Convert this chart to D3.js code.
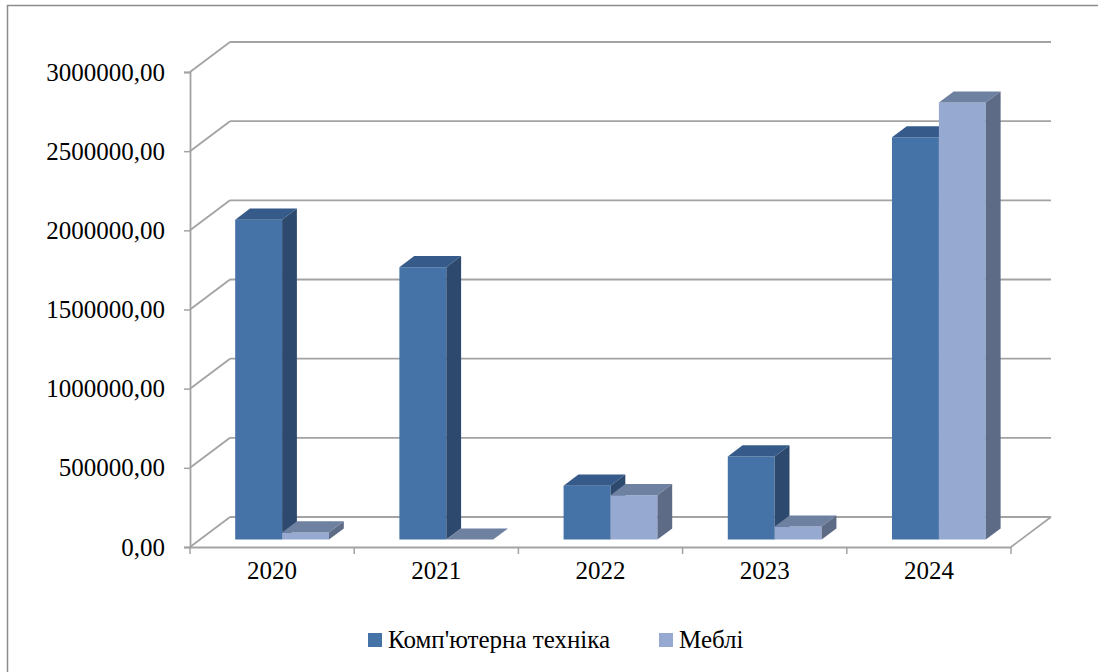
<!DOCTYPE html>
<html>
<head>
<meta charset="utf-8">
<script src="https://cdn.jsdelivr.net/npm/d3@7"></script>
<style>
  body { margin: 0; background: #fff; }
</style>
</head>
<body>
<div id="container"></div>
<script>
/* CONSTANTS AND GLOBALS */
const width = 1098,
  height = 672;
const FONT = "'Times New Roman', 'Liberation Serif', 'DejaVu Serif', 'Noto Serif', serif";

// data
const years = ["2020", "2021", "2022", "2023", "2024"];
const seriesNames = ["Комп'ютерна техніка", "Меблі"];
const computers = [2020000, 1720000, 340000, 525000, 2540000];
const furniture = [45000, 0, 280000, 82000, 2760000];
const yTicks = [0, 500000, 1000000, 1500000, 2000000, 2500000, 3000000];

// colours: front, top, side
const colors = [
  { front: "#4572a7", top: "#365b8a", side: "#2d4a6e" },
  { front: "#95a9d1", top: "#6f81a1", side: "#5e6b86" }
];

// 3d wall depth offset
const DX = 40, DY = 30;
const zFront = 0.25, zBack = 0.62;

/* SCALES */
const yScale = d3.scaleLinear()
  .domain([0, 3000000])
  .range([547, 72]);

const xScale = d3.scaleBand()
  .domain(years)
  .range([190, 1011])
  .padding(0);

const subScale = d3.scaleBand()
  .domain(seriesNames)
  .range([0, xScale.bandwidth()])
  .paddingInner(0)
  .paddingOuter(0.75);

// oblique projection: x on front plane, value, depth fraction
const proj = (x, v, z) => [x + z * DX, yScale(v) - z * DY];

/* HTML ELEMENTS */
const svg = d3.select("#container")
  .append("svg")
  .attr("width", width)
  .attr("height", height)
  .style("font-family", FONT);

// outer frame
svg.append("rect")
  .attr("x", 7.5).attr("y", 5.5)
  .attr("width", 1100).attr("height", 680)
  .attr("fill", "none")
  .attr("stroke", "#8c8c8c")
  .attr("stroke-width", 1.5);

const grid = svg.append("g")
  .attr("stroke", "#a3a3a3")
  .attr("stroke-width", 1.8)
  .attr("fill", "none");

const [x0, x1] = xScale.range();

// back wall lines
grid.selectAll(".back")
  .data(yTicks)
  .join("line")
  .attr("x1", d => proj(x0, d, 1)[0])
  .attr("x2", d => proj(x1, d, 1)[0])
  .attr("y1", d => proj(x0, d, 1)[1])
  .attr("y2", d => proj(x1, d, 1)[1]);

// side wall diagonals
grid.selectAll(".side")
  .data(yTicks)
  .join("line")
  .attr("x1", d => proj(x0, d, 0)[0])
  .attr("y1", d => proj(x0, d, 0)[1])
  .attr("x2", d => proj(x0, d, 1)[0])
  .attr("y2", d => proj(x0, d, 1)[1]);

// floor right edge
grid.append("line")
  .attr("x1", proj(x1, 0, 0)[0]).attr("y1", proj(x1, 0, 0)[1])
  .attr("x2", proj(x1, 0, 1)[0]).attr("y2", proj(x1, 0, 1)[1]);

// front floor edge / x axis
const xAxis = d3.axisBottom(xScale).tickSize(0).tickPadding(14);
const gx = svg.append("g")
  .attr("transform", `translate(0, ${yScale(0)})`)
  .call(xAxis)
  .attr("font-family", FONT)
  .attr("font-size", 25);
gx.select(".domain").attr("stroke", "#a3a3a3").attr("stroke-width", 1.8);
gx.selectAll("text")
  .style("font-family", FONT)
  .attr("font-size", 25)
  .attr("fill", "#000");

// category boundary ticks
svg.append("g")
  .selectAll("line")
  .data(years.map(d => xScale(d)).concat([x1]))
  .join("line")
  .attr("x1", d => d).attr("x2", d => d)
  .attr("y1", yScale(0)).attr("y2", yScale(0) + 7)
  .attr("stroke", "#a3a3a3")
  .attr("stroke-width", 1.5);

// y axis
const yAxis = d3.axisLeft(yScale)
  .tickValues(yTicks)
  .tickSize(6)
  .tickPadding(19)
  .tickFormat(d => d3.format(".2f")(d).replace(".", ","));
const gy = svg.append("g")
  .attr("transform", `translate(${x0}, 0)`)
  .call(yAxis)
  .attr("font-family", FONT)
  .attr("font-size", 25);
gy.select(".domain").attr("stroke", "#a3a3a3").attr("stroke-width", 1.8);
gy.selectAll(".tick line").attr("stroke", "#a3a3a3").attr("stroke-width", 1.5);
gy.selectAll("text")
  .style("font-family", FONT)
  .attr("font-size", 25)
  .attr("fill", "#000");

// Draw bars (3d boxes)
const bars = [];
years.forEach((yr, i) => {
  [computers, furniture].forEach((vals, s) => {
    bars.push({ year: yr, series: seriesNames[s], s: s, value: vals[i] });
  });
});

const pts = a => a.map(p => p.join(",")).join(" ");

const barG = svg.append("g")
  .selectAll("g")
  .data(bars)
  .join("g");

barG.each(function(d) {
  const g = d3.select(this);
  const xl = xScale(d.year) + subScale(d.series);
  const xr = xl + subScale.bandwidth();
  const c = colors[d.s];
  // front face
  g.append("polygon")
    .attr("points", pts([proj(xl, 0, zFront), proj(xr, 0, zFront), proj(xr, d.value, zFront), proj(xl, d.value, zFront)]))
    .attr("fill", c.front);
  // top face
  g.append("polygon")
    .attr("points", pts([proj(xl, d.value, zFront), proj(xr, d.value, zFront), proj(xr, d.value, zBack), proj(xl, d.value, zBack)]))
    .attr("fill", c.top);
  // right side face
  g.append("polygon")
    .attr("points", pts([proj(xr, 0, zFront), proj(xr, 0, zBack), proj(xr, d.value, zBack), proj(xr, d.value, zFront)]))
    .attr("fill", c.side);
});

// legend
const legend = svg.append("g")
  .attr("transform", "translate(368, 633)");
const legendX = [0, 291];
seriesNames.forEach((name, i) => {
  legend.append("rect")
    .attr("x", legendX[i]).attr("y", 0)
    .attr("width", 14).attr("height", 14)
    .attr("fill", colors[i].front);
  legend.append("text")
    .attr("x", legendX[i] + 20).attr("y", 15)
    .style("font-family", FONT)
    .attr("font-size", 25)
    .attr("fill", "#000")
    .text(name);
});
</script>
</body>
</html>
